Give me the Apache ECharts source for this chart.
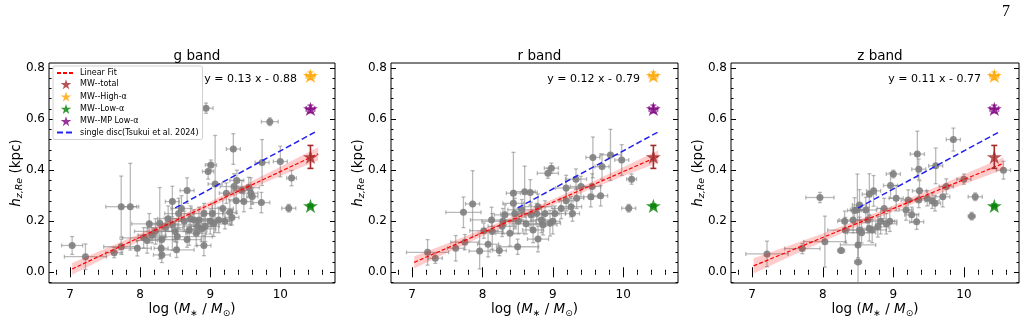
<!DOCTYPE html>
<html>
<head>
<meta charset="utf-8">
<script src="https://cdn.jsdelivr.net/npm/echarts@6/dist/echarts.min.js"></script>
<style>
  html, body { margin: 0; padding: 0; background: #fff; }
  #chart { width: 1030px; height: 322px; }
</style>
</head>
<body>
<div id="chart"></div>
<script>
// gray galaxies: [log M*, h_z, xerr, yerr]
const gPoints = [
  [7.03, 0.105, 0.15, 0.035], [7.22, 0.061, 0.3, 0.05], [7.63, 0.077, 0.12, 0.02], [7.73, 0.100, 0.25, 0.03],
  [7.73, 0.257, 0.22, 0.12], [7.86, 0.257, 0.12, 0.17], [7.96, 0.094, 0.2, 0.03], [8.05, 0.135, 0.3, 0.04],
  [8.10, 0.125, 0.15, 0.05], [8.13, 0.19, 0.25, 0.04], [8.17, 0.145, 0.2, 0.03], [8.22, 0.16, 0.3, 0.05],
  [8.28, 0.192, 0.15, 0.14], [8.30, 0.094, 0.1, 0.04], [8.31, 0.068, 0.12, 0.03], [8.31, 0.128, 0.2, 0.05],
  [8.36, 0.175, 0.25, 0.04], [8.40, 0.21, 0.15, 0.05], [8.46, 0.277, 0.1, 0.06], [8.46, 0.186, 0.3, 0.1],
  [8.50, 0.16, 0.2, 0.04], [8.52, 0.088, 0.25, 0.03], [8.53, 0.14, 0.5, 0.05], [8.55, 0.23, 0.2, 0.06],
  [8.59, 0.25, 0.15, 0.05], [8.63, 0.2, 0.2, 0.04], [8.67, 0.32, 0.1, 0.05], [8.67, 0.128, 0.2, 0.03],
  [8.70, 0.166, 0.25, 0.06], [8.72, 0.21, 0.3, 0.05], [8.77, 0.205, 0.2, 0.04], [8.80, 0.153, 0.15, 0.05],
  [8.82, 0.18, 0.2, 0.03], [8.84, 0.205, 0.25, 0.05], [8.88, 0.17, 0.2, 0.05], [8.91, 0.23, 0.15, 0.04],
  [8.91, 0.105, 0.1, 0.04], [8.93, 0.18, 0.2, 0.06], [8.94, 0.643, 0.1, 0.02], [8.97, 0.395, 0.08, 0.03],
  [9.00, 0.2, 0.2, 0.05], [9.01, 0.42, 0.08, 0.02], [9.03, 0.23, 0.15, 0.04], [9.05, 0.19, 0.25, 0.05],
  [9.07, 0.346, 0.1, 0.19], [9.12, 0.205, 0.15, 0.05], [9.18, 0.25, 0.15, 0.04], [9.21, 0.2, 0.1, 0.03],
  [9.23, 0.31, 0.1, 0.04], [9.28, 0.235, 0.1, 0.05], [9.31, 0.215, 0.1, 0.03], [9.33, 0.483, 0.1, 0.06],
  [9.34, 0.336, 0.2, 0.05], [9.37, 0.28, 0.1, 0.05], [9.38, 0.36, 0.1, 0.04], [9.45, 0.32, 0.15, 0.04],
  [9.48, 0.277, 0.1, 0.04], [9.55, 0.332, 0.15, 0.04], [9.58, 0.31, 0.1, 0.06], [9.60, 0.297, 0.08, 0.03],
  [9.73, 0.273, 0.12, 0.04], [9.74, 0.43, 0.1, 0.09], [9.85, 0.59, 0.12, 0.015], [10.0, 0.434, 0.1, 0.06],
  [10.12, 0.251, 0.1, 0.015], [10.16, 0.369, 0.07, 0.03]
]
const rPoints = [
  [7.22, 0.078, 0.3, 0.05], [7.33, 0.055, 0.1, 0.02], [7.62, 0.094, 0.12, 0.05], [7.73, 0.235, 0.25, 0.06],
  [7.75, 0.118, 0.2, 0.03], [7.86, 0.268, 0.1, 0.13], [7.96, 0.083, 0.15, 0.07], [8.02, 0.163, 0.2, 0.03],
  [8.08, 0.11, 0.15, 0.05], [8.13, 0.205, 0.3, 0.05], [8.14, 0.16, 0.15, 0.07], [8.24, 0.085, 0.1, 0.02],
  [8.28, 0.18, 0.2, 0.04], [8.29, 0.2, 0.3, 0.05], [8.32, 0.225, 0.15, 0.04], [8.39, 0.153, 0.2, 0.05],
  [8.44, 0.31, 0.1, 0.16], [8.44, 0.27, 0.15, 0.05], [8.46, 0.23, 0.2, 0.06], [8.50, 0.1, 0.3, 0.03],
  [8.51, 0.2, 0.25, 0.05], [8.56, 0.245, 0.2, 0.04], [8.60, 0.316, 0.15, 0.1], [8.62, 0.19, 0.2, 0.04],
  [8.68, 0.313, 0.1, 0.05], [8.69, 0.225, 0.2, 0.05], [8.72, 0.166, 0.15, 0.05], [8.77, 0.23, 0.25, 0.04],
  [8.79, 0.257, 0.2, 0.05], [8.79, 0.13, 0.15, 0.05], [8.84, 0.205, 0.15, 0.05], [8.86, 0.186, 0.2, 0.04],
  [8.89, 0.23, 0.2, 0.05], [8.93, 0.388, 0.15, 0.02], [8.98, 0.408, 0.1, 0.02], [8.96, 0.192, 0.15, 0.05],
  [9.00, 0.2, 0.1, 0.05], [9.03, 0.23, 0.15, 0.03], [9.12, 0.25, 0.1, 0.04], [9.19, 0.33, 0.15, 0.05],
  [9.19, 0.28, 0.1, 0.04], [9.26, 0.257, 0.15, 0.04], [9.28, 0.23, 0.1, 0.03], [9.33, 0.365, 0.15, 0.04],
  [9.34, 0.29, 0.1, 0.04], [9.40, 0.336, 0.15, 0.04], [9.54, 0.296, 0.1, 0.04], [9.56, 0.336, 0.12, 0.05],
  [9.57, 0.45, 0.1, 0.08], [9.68, 0.3, 0.1, 0.04], [9.70, 0.414, 0.1, 0.05], [9.82, 0.46, 0.15, 0.1],
  [9.98, 0.44, 0.1, 0.06], [10.08, 0.251, 0.1, 0.015], [10.12, 0.365, 0.07, 0.02]
]
const zPoints = [
  [7.21, 0.072, 0.3, 0.05], [7.71, 0.093, 0.25, 0.02], [7.96, 0.293, 0.2, 0.02], [8.03, 0.12, 0.3, 0.1],
  [8.26, 0.085, 0.05, 0.01], [8.31, 0.2, 0.1, 0.04], [8.32, 0.165, 0.25, 0.05], [8.43, 0.205, 0.2, 0.05],
  [8.45, 0.242, 0.1, 0.05], [8.49, 0.245, 0.1, 0.14], [8.50, 0.107, 0.25, 0.05], [8.50, 0.04, 0.05, 0.115],
  [8.52, 0.166, 0.15, 0.05], [8.52, 0.264, 0.1, 0.06], [8.55, 0.155, 0.2, 0.04], [8.61, 0.244, 0.15, 0.05],
  [8.64, 0.205, 0.2, 0.05], [8.66, 0.306, 0.1, 0.08], [8.66, 0.172, 0.1, 0.05], [8.70, 0.166, 0.2, 0.05],
  [8.72, 0.319, 0.1, 0.06], [8.78, 0.178, 0.15, 0.04], [8.82, 0.2, 0.2, 0.05], [8.87, 0.25, 0.1, 0.04],
  [8.90, 0.19, 0.15, 0.04], [8.96, 0.34, 0.1, 0.05], [8.95, 0.2, 0.1, 0.04], [9.00, 0.385, 0.1, 0.015],
  [9.04, 0.29, 0.1, 0.05], [9.18, 0.244, 0.1, 0.04], [9.21, 0.283, 0.1, 0.04], [9.26, 0.225, 0.1, 0.03],
  [9.33, 0.198, 0.1, 0.03], [9.34, 0.463, 0.1, 0.09], [9.36, 0.404, 0.1, 0.04], [9.37, 0.319, 0.1, 0.04],
  [9.36, 0.283, 0.1, 0.03], [9.48, 0.29, 0.1, 0.03], [9.55, 0.28, 0.1, 0.03], [9.59, 0.27, 0.08, 0.03],
  [9.60, 0.417, 0.1, 0.07], [9.70, 0.296, 0.1, 0.04], [9.75, 0.336, 0.1, 0.03], [9.85, 0.52, 0.1, 0.045],
  [10.0, 0.365, 0.1, 0.02], [10.11, 0.22, 0.05, 0.015], [10.16, 0.296, 0.1, 0.015], [10.56, 0.4, 0.1, 0.035]
]

// linear fit end points and confidence band [x, lower, upper]
const gFit = [[7.03, 0.013], [10.54, 0.464]]
const rFit = [[7.03, 0.039], [10.5, 0.454]]
const zFit = [[7.02, 0.025], [10.56, 0.427]]
const gBand = [[7.03, -0.010, 0.036], [7.5, 0.056, 0.092], [8.0, 0.124, 0.152], [8.5, 0.191, 0.213],
  [9.0, 0.255, 0.277], [9.5, 0.318, 0.344], [10.0, 0.377, 0.413], [10.54, 0.438, 0.49]]
const rBand = [[7.03, 0.015, 0.063], [7.5, 0.077, 0.113], [8.0, 0.141, 0.169], [8.5, 0.204, 0.226],
  [9.0, 0.264, 0.286], [9.5, 0.321, 0.347], [10.0, 0.376, 0.412], [10.5, 0.43, 0.478]]
const zBand = [[7.02, -0.005, 0.055], [7.5, 0.057, 0.102], [8.0, 0.12, 0.152], [8.5, 0.181, 0.205],
  [9.0, 0.238, 0.262], [9.5, 0.293, 0.321], [10.0, 0.345, 0.383], [10.56, 0.403, 0.451]]
const discLine = [[8.5, 0.252], [10.52, 0.553]]

// Milky Way reference values
const mwNames = ['MW--total', 'MW--High-α', 'MW--Low-α', 'MW--MP Low-α']
const mwX = 10.43
const mwY = [0.452, 0.77, 0.26, 0.64]
const mwXerr = [0, 0.06, 0.03, 0.06]
const mwYerr = [0.045, 0.015, 0.006, 0.015]

const bandTitles = ['g band', 'r band', 'z band']
const fitTexts = ['y = 0.13 x - 0.88', 'y = 0.12 x - 0.79', 'y = 0.11 x - 0.77']
const xMajor = [7, 8, 9, 10]
const xMinor = [6.8, 7.0, 7.2, 7.4, 7.6, 7.8, 8.0, 8.2, 8.4, 8.6, 8.8, 9.0, 9.2, 9.4, 9.6, 9.8, 10.0, 10.2, 10.4, 10.6]
const yMajor = [0, 0.2, 0.4, 0.6, 0.8]
const yMinor = [-0.04, 0, 0.04, 0.08, 0.12, 0.16, 0.2, 0.24, 0.28, 0.32, 0.36, 0.4, 0.44, 0.48, 0.52, 0.56, 0.6, 0.64, 0.68, 0.72, 0.76, 0.8]

const panels = [
  { points: gPoints, fit: gFit, band: gBand },
  { points: rPoints, fit: rFit, band: rBand },
  { points: zPoints, fit: zFit, band: zBand }
]

const mwColors = ['#a52a2a', '#ffa500', '#008000', '#800080']
const mwErrColors = ['#a52a2a', 'rgba(255,165,0,0.6)', 'rgba(0,128,0,0.6)', 'rgba(128,0,128,0.6)']
const starPath = 'path://M50,0 L61.2,34.5 L97.6,34.5 L68.2,55.9 L79.4,90.5 L50,69.1 L20.6,90.5 L31.8,55.9 L2.4,34.5 L38.8,34.5 Z'
const font = 'DejaVu Sans'
const grids = [
  { left: 49, top: 63, width: 286, height: 220 },
  { left: 391, top: 63, width: 287, height: 220 },
  { left: 731, top: 63, width: 288, height: 220 }
]
const xMin = 6.7, xMax = 10.78, yMin = -0.042, yMax = 0.82

const chart = echarts.init(document.getElementById('chart'))

const errRender = (color, cap, width) => (params, api) => {
  const x = api.value(0), y = api.value(1), xe = api.value(2), ye = api.value(3)
  const l = api.coord([x - xe, y]), r = api.coord([x + xe, y])
  const t = api.coord([x, y + ye]), b = api.coord([x, y - ye])
  const st = { stroke: color, lineWidth: width }
  const children = []
  if (xe > 0) {
    children.push({ type: 'line', shape: { x1: l[0], y1: l[1], x2: r[0], y2: r[1] }, style: st })
    children.push({ type: 'line', shape: { x1: l[0], y1: l[1] - cap, x2: l[0], y2: l[1] + cap }, style: st })
    children.push({ type: 'line', shape: { x1: r[0], y1: r[1] - cap, x2: r[0], y2: r[1] + cap }, style: st })
  }
  if (ye > 0) {
    children.push({ type: 'line', shape: { x1: t[0], y1: t[1], x2: b[0], y2: b[1] }, style: st })
    children.push({ type: 'line', shape: { x1: t[0] - cap, y1: t[1], x2: t[0] + cap, y2: t[1] }, style: st })
    children.push({ type: 'line', shape: { x1: b[0] - cap, y1: b[1], x2: b[0] + cap, y2: b[1] }, style: st })
  }
  return { type: 'group', children }
}

const bandRender = (band) => (params, api) => {
  if (params.dataIndex !== 0) return
  const upper = band.map(b => api.coord([b[0], b[2]]))
  const lower = band.slice().reverse().map(b => api.coord([b[0], b[1]]))
  return { type: 'polygon', shape: { points: upper.concat(lower) }, style: { fill: 'rgba(255,0,0,0.2)' } }
}

const tick = (vals, len) => ({ show: true, inside: true, length: len, customValues: vals, lineStyle: { color: '#000', width: 1 } })

const xAxis = []
const yAxis = []
const series = []
const title = []
const graphic = []

panels.forEach((p, i) => {
  const xb = { type: 'value', gridIndex: i, min: xMin, max: xMax, splitLine: { show: false }, axisLine: { show: false } }
  const yb = { type: 'value', gridIndex: i, min: yMin, max: yMax, splitLine: { show: false }, axisLine: { show: false } }
  xAxis.push(
    Object.assign({}, xb, {
      position: 'bottom', axisTick: tick(xMajor, 5),
      axisLabel: { customValues: xMajor, fontSize: 12, color: '#000', margin: 6, fontFamily: font },
      name: '{n|log (}{i|M}{s|∗}{n| / }{i|M}{s|⊙}{n|)}', nameLocation: 'middle', nameGap: 17, nameMoveOverlap: false,
      nameTextStyle: {
        color: '#000', fontFamily: font,
        rich: {
          n: { fontSize: 13.5, lineHeight: 18, fontFamily: font },
          i: { fontSize: 13.5, lineHeight: 18, fontStyle: 'italic', fontFamily: font },
          s: { fontSize: 9, lineHeight: 9, verticalAlign: 'bottom', fontFamily: font }
        }
      }
    }),
    Object.assign({}, xb, { position: 'bottom', axisTick: tick(xMinor, 2.5), axisLabel: { show: false } }),
    Object.assign({}, xb, { position: 'top', axisTick: tick(xMajor, 5), axisLabel: { show: false } }),
    Object.assign({}, xb, { position: 'top', axisTick: tick(xMinor, 2.5), axisLabel: { show: false } })
  )
  yAxis.push(
    Object.assign({}, yb, {
      position: 'left', axisTick: tick(yMajor, 5),
      axisLabel: { customValues: yMajor, fontSize: 12, color: '#000', margin: 4, fontFamily: font, formatter: v => v.toFixed(1) },
      name: '{i|h}{s|z,Re}{n| (kpc)}', nameLocation: 'middle', nameGap: 24, nameMoveOverlap: false,
      nameTextStyle: {
        color: '#000', fontFamily: font,
        rich: {
          n: { fontSize: 13.5, lineHeight: 18, fontFamily: font },
          i: { fontSize: 13.5, lineHeight: 18, fontStyle: 'italic', fontFamily: font },
          s: { fontSize: 9.5, lineHeight: 9, verticalAlign: 'bottom', fontStyle: 'italic', fontFamily: font }
        }
      }
    }),
    Object.assign({}, yb, { position: 'left', axisTick: tick(yMinor, 2.5), axisLabel: { show: false } }),
    Object.assign({}, yb, { position: 'right', axisTick: tick(yMajor, 5), axisLabel: { show: false } }),
    Object.assign({}, yb, { position: 'right', axisTick: tick(yMinor, 2.5), axisLabel: { show: false } })
  )
  const ax = { xAxisIndex: 4 * i, yAxisIndex: 4 * i }

  series.push(Object.assign({
    type: 'custom', renderItem: errRender('rgba(128,128,128,0.55)', 2, 1.3), clip: true, z: 2,
    data: p.points, silent: true
  }, ax))
  series.push(Object.assign({
    type: 'scatter', data: p.points.map(d => [d[0], d[1]]), symbolSize: 7, z: 3, silent: true,
    itemStyle: { color: '#808080', opacity: 0.9 }
  }, ax))
  series.push(Object.assign({
    type: 'custom', renderItem: bandRender(p.band), data: p.band, z: 4, silent: true
  }, ax))
  series.push(Object.assign({
    type: 'line', name: 'Linear Fit', data: p.fit, showSymbol: false, symbol: 'none', z: 5,
    lineStyle: { color: '#ff0000', width: 1.2, type: [4, 2] }, itemStyle: { color: '#ff0000' }
  }, ax))
  series.push(Object.assign({
    type: 'line', name: 'single disc(Tsukui et al. 2024)', data: discLine, showSymbol: false, symbol: 'none', z: 5,
    lineStyle: { color: '#2222ee', width: 1.5, type: [6, 3] }, itemStyle: { color: '#2222ee' }
  }, ax))
  mwNames.forEach((name, k) => {
    series.push(Object.assign({
      type: 'custom', renderItem: errRender(mwErrColors[k], 3, 1.6), z: 6, silent: true,
      data: [[mwX, mwY[k], mwXerr[k], mwYerr[k]]]
    }, ax))
    series.push(Object.assign({
      type: 'scatter', name, data: [[mwX, mwY[k]]], symbol: starPath, symbolKeepAspect: true,
      symbolSize: 15, z: 7, itemStyle: { color: mwColors[k] }
    }, ax))
  })

  const g = grids[i]
  title.push({
    text: bandTitles[i], left: g.left + g.width / 2, top: 44, textAlign: 'center',
    textStyle: { fontSize: 13.5, fontWeight: 'normal', color: '#000', fontFamily: font }
  })
  graphic.push({
    type: 'text', x: g.left + g.width - 38, y: 79,
    style: { text: fitTexts[i], font: '11px "DejaVu Sans"', fill: '#000', align: 'right', verticalAlign: 'middle' }
  })
})

graphic.push({
  type: 'text', x: 1010, y: 12,
  style: { text: '7', font: '16px "Liberation Serif"', fill: '#000', align: 'right', verticalAlign: 'middle' }
})

const option = {
  animation: false,
  textStyle: { fontFamily: font },
  grid: grids.map(g => Object.assign({
    show: true, borderColor: '#000', borderWidth: 1, backgroundColor: 'transparent',
    containLabel: false, outerBoundsMode: 'none'
  }, g)),
  title,
  xAxis,
  yAxis,
  series,
  graphic,
  legend: {
    orient: 'vertical', left: 53, top: 66, itemWidth: 18, itemHeight: 10, itemGap: 2.3,
    padding: [3, 4, 3, 3], borderColor: '#d0d0d0', borderWidth: 1, borderRadius: 2, backgroundColor: '#fff',
    textStyle: { fontSize: 8, color: '#000', fontFamily: font },
    data: [
      { name: 'Linear Fit', itemStyle: { opacity: 0 } },
      { name: 'MW--total', icon: starPath },
      { name: 'MW--High-α', icon: starPath },
      { name: 'MW--Low-α', icon: starPath },
      { name: 'MW--MP Low-α', icon: starPath },
      { name: 'single disc(Tsukui et al. 2024)', itemStyle: { opacity: 0 } }
    ]
  }
}

chart.setOption(option)
</script>
</body>
</html>
